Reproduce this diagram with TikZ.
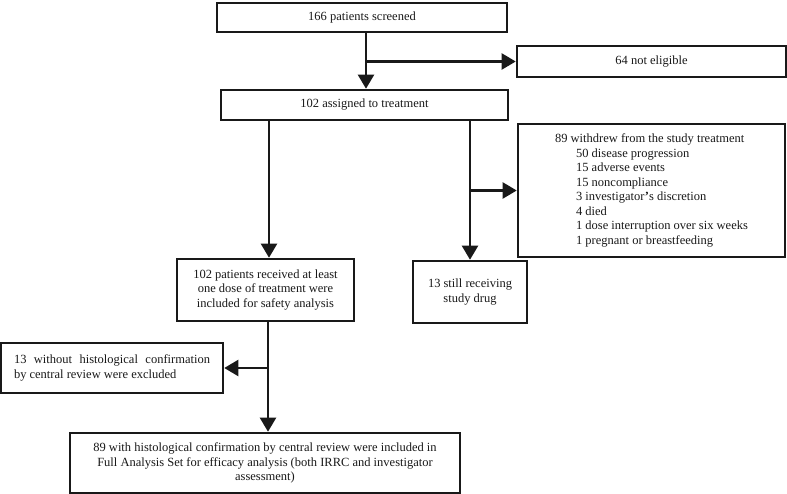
\documentclass[tikz,border=0pt]{standalone}
\usepackage{fontspec}
\setmainfont{Liberation Serif}
\usetikzlibrary{arrows.meta}
\begin{document}
\begin{tikzpicture}[x=1pt,y=-1pt,
  box/.style={draw=black!90, line width=2.6pt, inner sep=0pt, align=center,
    font=\fontsize{12.5}{14.5}\selectfont, text=black!90},
  arr/.style={draw=black!90, line width=2.3pt, -{Triangle[length=14pt,width=16pt]}}]
\useasboundingbox (0,0) rectangle (787,494);
\node[box, minimum width=290pt, minimum height=29pt] (scr) at (362,17.5) {166 patients screened};
\node[box, minimum width=269pt, minimum height=31pt] (nel) at (651.5,61.5) {64 not eligible};
\node[box, minimum width=287pt, minimum height=30pt] (asg) at (364.5,105) {102 assigned to treatment};
\node[box, minimum width=267pt, minimum height=133pt, align=left] (wd) at (651.5,190.5)
  {89 withdrew from the study treatment\\
   \hspace*{21pt}50 disease progression\\
   \hspace*{21pt}15 adverse events\\
   \hspace*{21pt}15 noncompliance\\
   \hspace*{21pt}3 investigator\kern0.5pt\textbf{'}s discretion\\
   \hspace*{21pt}4 died\\
   \hspace*{21pt}1 dose interruption over six weeks\\
   \hspace*{21pt}1 pregnant or breastfeeding};
\node[box, minimum width=177pt, minimum height=62pt] (saf) at (265.5,290)
  {102 patients received at least\\one dose of treatment were\\included for safety analysis};
\node[box, minimum width=114pt, minimum height=62pt] (still) at (470,292)
  {13 still receiving\\study drug};
\node[box, minimum width=222pt, minimum height=50pt, align=left] (excl) at (112,368)
  {\makebox[196pt][s]{13 without histological confirmation}\\\makebox[196pt][l]{by central review were excluded}};
\node[box, minimum width=390pt, minimum height=60pt] (fas) at (265,463)
  {89 with histological confirmation by central review were included in\\Full Analysis Set for efficacy analysis (both IRRC and investigator\\assessment)};
% connectors
\coordinate (s1) at ([xshift=4pt]scr.south);
\draw[arr] (s1) -- (s1 |- asg.north);
\draw[arr] (s1 |- nel.west) -- (nel.west);
\coordinate (a1) at ([xshift=3.5pt]saf.north |- asg.south);
\draw[arr] (a1) -- (a1 |- saf.north);
\draw[arr] (still.north |- asg.south) -- (still.north);
\draw[arr] (still.north |- wd.west) -- (wd.west);
\coordinate (f1) at ([xshift=2.5pt]saf.south);
\draw[arr] (f1) -- (f1 |- fas.north);
\draw[arr] (f1 |- excl.east) -- (excl.east);
\end{tikzpicture}
\end{document}
